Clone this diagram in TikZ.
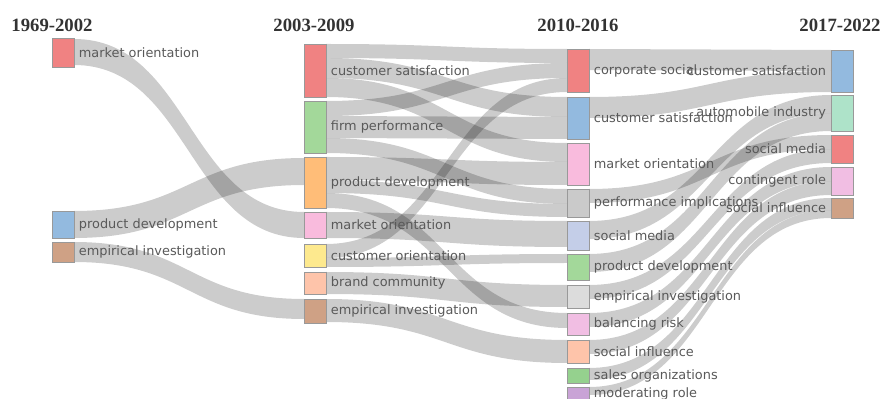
\documentclass[tikz,border=0pt]{standalone}
\usepackage{fontspec}
\setmainfont{DejaVu Sans}
\newfontfamily\yearfont{Liberation Serif}
\usetikzlibrary{positioning, calc}

\definecolor{kred}{HTML}{F08282}
\definecolor{kblue}{HTML}{93BADF}
\definecolor{ktan}{HTML}{CFA185}
\definecolor{kgreen}{HTML}{A3D89A}
\definecolor{korange}{HTML}{FFBD78}
\definecolor{kpink}{HTML}{F9BBDD}
\definecolor{kyellow}{HTML}{FDE98E}
\definecolor{kpeach}{HTML}{FEC4AA}
\definecolor{kgrey}{HTML}{CACACA}
\definecolor{klavender}{HTML}{C4CEE8}
\definecolor{klightgrey}{HTML}{DCDCDC}
\definecolor{kmauve}{HTML}{F1BEE3}
\definecolor{kleaf}{HTML}{95D18E}
\definecolor{kpurple}{HTML}{C9A3D6}
\definecolor{kmint}{HTML}{AEE3C9}

\pgfdeclarelayer{flows}
\pgfsetlayers{flows,main}

% band from #1 to #3; #2 and #4 are offsets below the node tops, #5 the width (px)
\newcommand\band[5]{%
  \begin{pgfonlayer}{flows}
    \path ($(#1.north east)+(0,#2)$) coordinate (p1);
    \path ($(#3.north west)+(0,#4)$) coordinate (p2);
    \path ($(p1)!0.5!(p2)$) coordinate (pm);
    \path ($(p1)+(0,#5)$) coordinate (q1);
    \path ($(p2)+(0,#5)$) coordinate (q2);
    \fill[flow] (p1) .. controls (p1 -| pm) and (p2 -| pm) .. (p2)
      -- (q2) .. controls (q2 -| pm) and (q1 -| pm) .. (q1) -- cycle;
  \end{pgfonlayer}}

\begin{document}
\begin{tikzpicture}[
    x=0.03cm, y=-0.03cm,
    box/.style={draw=black!40, line width=0.5pt, inner sep=0pt, outer sep=0pt,
      minimum width=0.66cm, minimum height=#1*0.03cm, anchor=north west},
    lbl/.style={font=\fontsize{11}{13}\selectfont, text=black!65, inner sep=0pt},
    year/.style={font=\yearfont\bfseries\fontsize{16}{19}\selectfont, text=black!80, anchor=base},
    flow/.style={fill=black, fill opacity=0.2}
]
\useasboundingbox (0,0) rectangle (885,399);

% periods
\node[year] (y1) at (52,32) {1969-2002};
\node[year] (y2) at (314,32) {2003-2009};
\node[year] (y3) at (578,32) {2010-2016};
\node[year] (y4) at (840,32) {2017-2022};

% 1969-2002
\node[box=29, fill=kred] (mo1) at (52,38) {};
\node[box=27, fill=kblue] (pd1) at (52,211) {};
\node[box=20, fill=ktan] (ei1) at (52,242) {};
\node[lbl, right=4pt of mo1] (mo1l) {market orientation};
\node[lbl, right=4pt of pd1] (pd1l) {product development};
\node[lbl, right=4pt of ei1] (ei1l) {empirical investigation};

% 2003-2009
\node[box=53, fill=kred] (cs2) at (304,44) {};
\node[box=52, fill=kgreen] (fp2) at (304,101) {};
\node[box=51, fill=korange] (pd2) at (304,157) {};
\node[box=26, fill=kpink] (mo2) at (304,212) {};
\node[box=23, fill=kyellow] (co2) at (304,244) {};
\node[box=22, fill=kpeach] (bc2) at (304,272) {};
\node[box=24, fill=ktan] (ei2) at (304,299) {};
\node[lbl, right=4pt of cs2] (cs2l) {customer satisfaction};
\node[lbl, right=4pt of fp2] (fp2l) {firm performance};
\node[lbl, right=4pt of pd2] (pd2l) {product development};
\node[lbl, right=4pt of mo2] (mo2l) {market orientation};
\node[lbl, right=4pt of co2] (co2l) {customer orientation};
\node[lbl, right=4pt of bc2] (bc2l) {brand community};
\node[lbl, right=4pt of ei2] (ei2l) {empirical investigation};

% 2010-2016
\node[box=43, fill=kred] (corp3) at (567,49) {};
\node[box=42, fill=kblue] (cs3) at (567,97) {};
\node[box=42, fill=kpink] (mo3) at (567,143) {};
\node[box=28, fill=kgrey] (pi3) at (567,189) {};
\node[box=29, fill=klavender] (sm3) at (567,221) {};
\node[box=26, fill=kgreen] (pd3) at (567,254) {};
\node[box=23, fill=klightgrey] (ei3) at (567,285) {};
\node[box=22, fill=kmauve] (br3) at (567,313) {};
\node[box=23, fill=kpeach] (si3) at (567,340) {};
\node[box=15, fill=kleaf] (so3) at (567,368) {};
\node[box=14, fill=kpurple] (mr3) at (567,387) {};
\node[lbl, right=4pt of corp3] (corp3l) {corporate social};
\node[lbl, right=4pt of cs3] (cs3l) {customer satisfaction};
\node[lbl, right=4pt of mo3] (mo3l) {market orientation};
\node[lbl, right=4pt of pi3] (pi3l) {performance implications};
\node[lbl, right=4pt of sm3] (sm3l) {social media};
\node[lbl, right=4pt of pd3] (pd3l) {product development};
\node[lbl, right=4pt of ei3] (ei3l) {empirical investigation};
\node[lbl, right=4pt of br3] (br3l) {balancing risk};
\node[lbl, right=4pt of si3] (si3l) {social influence};
\node[lbl, right=4pt of so3] (so3l) {sales organizations};
\node[lbl, right=4pt of mr3] (mr3l) {moderating role};

% 2017-2022
\node[box=42, fill=kblue] (cs4) at (831,50) {};
\node[box=36, fill=kmint] (auto4) at (831,95) {};
\node[box=28, fill=kred] (sm4) at (831,135) {};
\node[box=28, fill=kmauve] (cont4) at (831,167) {};
\node[box=20, fill=ktan] (si4) at (831,198) {};
\node[lbl, left=4pt of cs4] (cs4l) {customer satisfaction};
\node[lbl, left=4pt of auto4] (auto4l) {automobile industry};
\node[lbl, left=4pt of sm4] (sm4l) {social media};
\node[lbl, left=4pt of cont4] (cont4l) {contingent role};
\node[lbl, left=4pt of si4] (si4l) {social influence};

% 1969-2002 -> 2003-2009
\band{mo1}{1}{mo2}{0}{26}
\band{pd1}{0}{pd2}{1}{27}
\band{ei1}{0}{ei2}{0}{20}

% 2003-2009 -> 2010-2016
\band{cs2}{0}{corp3}{0}{14}
\band{cs2}{14}{cs3}{0}{20}
\band{cs2}{34}{mo3}{0}{19}
\band{fp2}{0}{corp3}{14}{15}
\band{fp2}{15}{cs3}{20}{22}
\band{fp2}{37}{pi3}{0}{15}
\band{pd2}{0}{mo3}{19}{23}
\band{pd2}{23}{pi3}{15}{13}
\band{pd2}{36}{br3}{0}{15}
\band{mo2}{0}{sm3}{0}{26}
\band{co2}{0}{corp3}{29}{14}
\band{co2}{14}{pd3}{0}{9}
\band{bc2}{0}{ei3}{0}{22}
\band{ei2}{0}{si3}{0}{23}

% 2010-2016 -> 2017-2022
\band{corp3}{0}{cs4}{0}{21}
\band{cs3}{0}{cs4}{21}{21}
\band{sm3}{0}{auto4}{0}{18}
\band{pd3}{0}{auto4}{18}{18}
\band{pi3}{0}{sm4}{0}{14}
\band{ei3}{0}{sm4}{14}{14}
\band{br3}{0}{cont4}{0}{14}
\band{si3}{0}{cont4}{14}{14}
\band{so3}{0}{si4}{0}{12}
\band{mr3}{0}{si4}{12}{8}
\end{tikzpicture}
\end{document}
